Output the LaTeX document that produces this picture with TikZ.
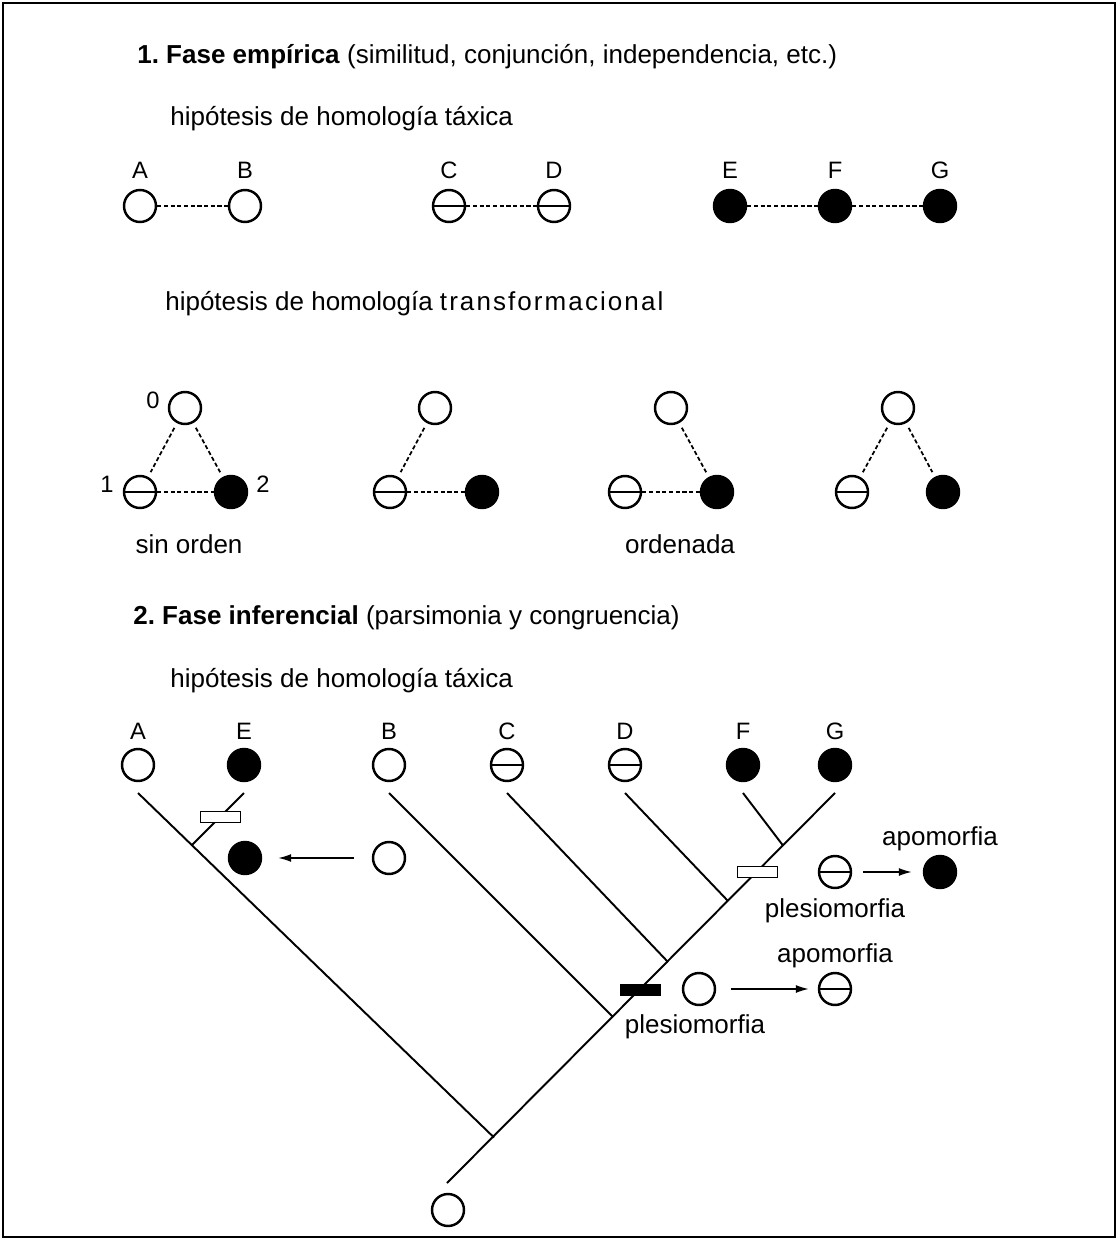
\documentclass[tikz,border=0pt]{standalone}
\usepackage{fontspec}
\setmainfont{Liberation Sans}
\usetikzlibrary{arrows.meta}

\tikzset{
  estado/.style={circle,draw,line width=1.4pt,minimum size=0.64cm,inner sep=0pt},
  blanco/.style={estado},
  negro/.style={estado,fill=black},
  rayado/.style={estado,path picture={\draw[line width=0.7pt] (path picture bounding box.west) -- (path picture bounding box.east);}},
  punteado/.style={line width=1pt,dash pattern=on 2.4pt off 1.4pt},
  trama/.style={punteado,shorten <=3pt,shorten >=3pt},
  rama/.style={line width=1.1pt},
  flecha/.style={line width=0.8pt,-{Latex[length=2.6mm,width=1.6mm]}},
  caja/.style={draw,line width=0.5pt,fill=white,minimum width=0.8cm,minimum height=0.23cm,inner sep=0pt},
  texto/.style={font=\fontsize{14.8}{17}\selectfont,inner sep=0pt},
  letra/.style={font=\fontsize{13.5}{16}\selectfont,inner sep=0pt},
}

\begin{document}
\frenchspacing
\begin{tikzpicture}[x=0.02cm,y=-0.02cm]
\useasboundingbox (0,0) rectangle (1117,1240);
\draw[line width=1.2pt] (3,3) rectangle (1115,1237);

% 1. fase empirica
\node[texto,anchor=base west] (fase1) at (137,64) {\textbf{1. Fase empírica} (similitud, conjunción, independencia, etc.)};
\node[texto,anchor=base west] (taxica1) at (170,126) {hipótesis de homología táxica};

\foreach \n/\x/\s in {A/140/blanco, B/245/blanco, C/449/rayado, D/554/rayado, E/730/negro, F/835/negro, G/940/negro} {
   \node[\s] (u\n) at (\x,206) {};
   \node[letra,anchor=base] (lu\n) at (\x,179) {\n};
}
\draw[punteado] (uA) -- (uB);
\draw[punteado] (uC) -- (uD);
\draw[punteado] (uE) -- (uF);
\draw[punteado] (uF) -- (uG);

\node[texto,anchor=base west] (transf) at (165,310) {hipótesis de homología {\addfontfeature{LetterSpace=8}transformacional}};

\foreach \i/\a/\b/\c in {1/185/140/231, 2/435/390/482, 3/671/625/717, 4/898/852/943} {
   \node[blanco] (s\i) at (\a,408) {};
   \node[rayado] (i\i) at (\b,492) {};
   \node[negro] (d\i) at (\c,492) {};
}
\draw[trama] (s1) -- (i1);
\draw[trama] (s1) -- (d1);
\draw[punteado] (i1) -- (d1);
\draw[trama] (s2) -- (i2);
\draw[punteado] (i2) -- (d2);
\draw[trama] (s3) -- (d3);
\draw[punteado] (i3) -- (d3);
\draw[trama] (s4) -- (i4);
\draw[trama] (s4) -- (d4);

\node[letra,anchor=base] (n0) at (153,408) {0};
\node[letra,anchor=base] (n1) at (107,492) {1};
\node[letra,anchor=base] (n2) at (263,492) {2};
\node[texto,anchor=base] (sinorden) at (189,553) {sin orden};
\node[texto,anchor=base] (ordenada) at (680,553) {ordenada};

% 2. fase inferencial
\node[texto,anchor=base west] (fase2) at (133,624) {\textbf{2. Fase inferencial} (parsimonia y congruencia)};
\node[texto,anchor=base west] (taxica2) at (170,687) {hipótesis de homología táxica};

\foreach \n/\x/\s in {A/138/blanco, E/244/negro, B/389/blanco, C/507/rayado, D/625/rayado, F/743/negro, G/835/negro} {
   \node[\s] (h\n) at (\x,765) {};
   \node[letra,anchor=base] (lh\n) at (\x,739) {\n};
   \coordinate (p\n) at (\x,793);
}

\coordinate (base) at (447,1183);
\coordinate (jA) at (494,1137.5);
\coordinate (jB) at (613,1017);
\coordinate (jC) at (668,962);
\coordinate (jD) at (728,901);
\coordinate (jF) at (783,845.5);
\coordinate (jE) at (192,845);
\node[blanco] (raiz) at (448,1210) {};
\draw[rama] (base) -- (pG);
\foreach \n in {A,B,C,D,F}
   \draw[rama] (p\n) -- (j\n);
\draw[rama] (pE) -- (jE);

\node[caja] (cajaE) at (220,817) {};
\node[caja] (cajaG) at (757,872) {};
\node[caja,fill=black] (cajaB) at (640,990) {};

\node[negro] (e1) at (245,858) {};
\node[blanco] (e0) at (389,858) {};
\draw[flecha,shorten <=0.36cm,shorten >=0.32cm] (e0) -- (e1);

\node[rayado] (g1) at (835,872) {};
\node[negro] (g2) at (940,872) {};
\draw[flecha,shorten <=0.22cm,shorten >=0.22cm] (g1) -- (g2);
\node[texto,anchor=base] (apo1) at (940,845) {apomorfia};
\node[texto,anchor=base] (ple1) at (835,917) {plesiomorfia};

\node[blanco] (b0) at (699,989) {};
\node[rayado] (b1) at (835,989) {};
\draw[flecha,shorten <=0.3cm,shorten >=0.18cm] (b0) -- (b1);
\node[texto,anchor=base] (apo2) at (835,962) {apomorfia};
\node[texto,anchor=base] (ple2) at (695,1033) {plesiomorfia};
\end{tikzpicture}
\end{document}
